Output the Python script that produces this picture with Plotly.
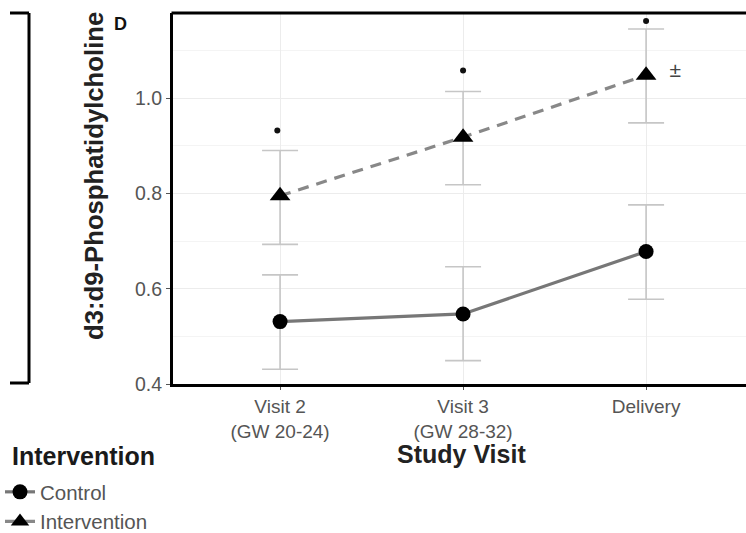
import plotly.graph_objects as go

# ---- data ----
visits = ["Visit 2<br>(GW 20-24)", "Visit 3<br>(GW 28-32)", "Delivery"]
visit_idx = [0, 1, 2]
control_mean = [0.531, 0.547, 0.678]
control_upper = [0.629, 0.646, 0.776]
control_lower = [0.431, 0.449, 0.578]
interv_mean = [0.795, 0.918, 1.048]
interv_upper = [0.890, 1.014, 1.145]
interv_lower = [0.693, 0.818, 0.948]
sig_dot_x = [-0.015, 1.0, 2.0]
sig_dot_y = [0.932, 1.058, 1.162]
pm_x = [2.16]
pm_y = [1.055]
pm_text = ["±"]
y_ticks = [0.4, 0.6, 0.8, 1.0]
legend_title = "Intervention"
x_title = "Study Visit"
y_title = "d3:d9-Phosphatidylcholine"
panel_label = "D"

FONT = "Liberation Sans, Arial, sans-serif"

W, H = 746, 533
L, T = 173, 13
PW = W - L            # plot width in px
PH = 371              # plot height in px
B = H - T - PH


def px(x):  # screenshot x -> paper x
    return (x - L) / PW


def py(y):  # screenshot y -> paper y
    return (T + PH - y) / PH


fig = go.Figure()


def err(mean, up, lo):
    return dict(type="data", symmetric=False,
                array=[u - m for u, m in zip(up, mean)],
                arrayminus=[m - l for m, l in zip(mean, lo)],
                color="#c6c6c6", thickness=1.6, width=18)


# error bars (behind lines)
fig.add_trace(go.Scatter(x=visit_idx, y=control_mean, mode="markers",
                         marker=dict(opacity=0, size=1),
                         error_y=err(control_mean, control_upper, control_lower),
                         showlegend=False, hoverinfo="skip"))
fig.add_trace(go.Scatter(x=visit_idx, y=interv_mean, mode="markers",
                         marker=dict(opacity=0, size=1),
                         error_y=err(interv_mean, interv_upper, interv_lower),
                         showlegend=False, hoverinfo="skip"))

# lines + markers
fig.add_trace(go.Scatter(x=visit_idx, y=control_mean, mode="lines+markers",
                         name="Control",
                         line=dict(color="#777777", width=3.2),
                         marker=dict(symbol="circle", size=15, color="black")))
fig.add_trace(go.Scatter(x=visit_idx, y=interv_mean, mode="lines+markers",
                         name="Intervention",
                         line=dict(color="#888888", width=3.2, dash="11px,8px"),
                         marker=dict(symbol="triangle-up", size=18, color="black")))

# significance markers
fig.add_trace(go.Scatter(x=sig_dot_x, y=sig_dot_y, mode="markers",
                         marker=dict(symbol="circle", size=6, color="#111"),
                         showlegend=False, hoverinfo="skip"))
fig.add_trace(go.Scatter(x=pm_x, y=pm_y, mode="text", text=pm_text,
                         textfont=dict(family=FONT, size=21, color="#444"),
                         showlegend=False, hoverinfo="skip"))

fig.update_layout(
    width=W, height=H,
    margin=dict(l=L, r=0, t=T, b=B, autoexpand=False),
    paper_bgcolor="white", plot_bgcolor="white",
    font=dict(family=FONT),
    showlegend=True,
    legend=dict(
        xref="container", yref="container",
        x=0.0, xanchor="left", y=1 - 472 / H, yanchor="top",
        font=dict(size=20.5, color="#555"),
        itemwidth=30, tracegroupgap=0, bgcolor="rgba(0,0,0,0)",
    ),
    xaxis=dict(
        range=[-0.585, 2.546], tickvals=visit_idx, ticktext=visits,
        showline=True, linewidth=3, linecolor="black",
        ticks="outside", ticklen=3, tickcolor="#555",
        tickfont=dict(size=19, color="#555"),
        showgrid=True, gridcolor="#ececec", gridwidth=1,
        zeroline=False,
    ),
    yaxis=dict(
        range=[0.4, 1.1786], tickvals=y_ticks, ticktext=[f"{v:.1f}" for v in y_ticks],
        showline=True, linewidth=3, linecolor="black",
        ticks="outside", ticklen=4, tickcolor="#555",
        tickfont=dict(size=19.5, color="#555"),
        showgrid=True, gridcolor="#ececec", gridwidth=1,
        minor=dict(dtick=0.1, tick0=0.5, showgrid=True, gridcolor="#f4f4f4", ticks=""),
        zeroline=False,
    ),
    annotations=[
        dict(text=f"<b>{y_title}</b>", textangle=-90,
             xref="paper", yref="paper", x=px(94), y=py(176),
             xanchor="center", yanchor="middle", showarrow=False,
             font=dict(size=25.7, color="#222")),
        dict(text=f"<b>{x_title}</b>",
             xref="paper", yref="paper", x=px(461), y=py(454),
             xanchor="center", yanchor="middle", showarrow=False,
             font=dict(size=25, color="#222")),
        dict(text=f"<b>{panel_label}</b>", xref="paper", yref="paper",
             x=px(120), y=py(24),
             xanchor="center", yanchor="middle", showarrow=False,
             font=dict(size=18, color="#111")),
        dict(text=f"<b>{legend_title}</b>", xref="paper", yref="paper",
             x=px(10), y=py(456), xanchor="left", yanchor="middle", showarrow=False,
             font=dict(size=25, color="#1a1a1a")),
    ],
    shapes=[
        # top border of panel
        dict(type="line", xref="paper", yref="paper", x0=px(171.5), x1=1.0, y0=1, y1=1,
             line=dict(color="black", width=3)),
        # remnant bracket of neighbouring panel
        dict(type="line", xref="paper", yref="paper",
             x0=px(10), x1=px(29), y0=py(13), y1=py(13),
             line=dict(color="black", width=3)),
        dict(type="line", xref="paper", yref="paper",
             x0=px(29), x1=px(29), y0=py(13), y1=py(383),
             line=dict(color="black", width=3)),
        dict(type="line", xref="paper", yref="paper",
             x0=px(10), x1=px(29), y0=py(383), y1=py(383),
             line=dict(color="black", width=3)),
    ],
)

fig.write_html(
    "out.html",
    config={"displayModeBar": False},
    post_script="document.body.style.margin='0px';document.body.style.overflow='hidden';",
)
